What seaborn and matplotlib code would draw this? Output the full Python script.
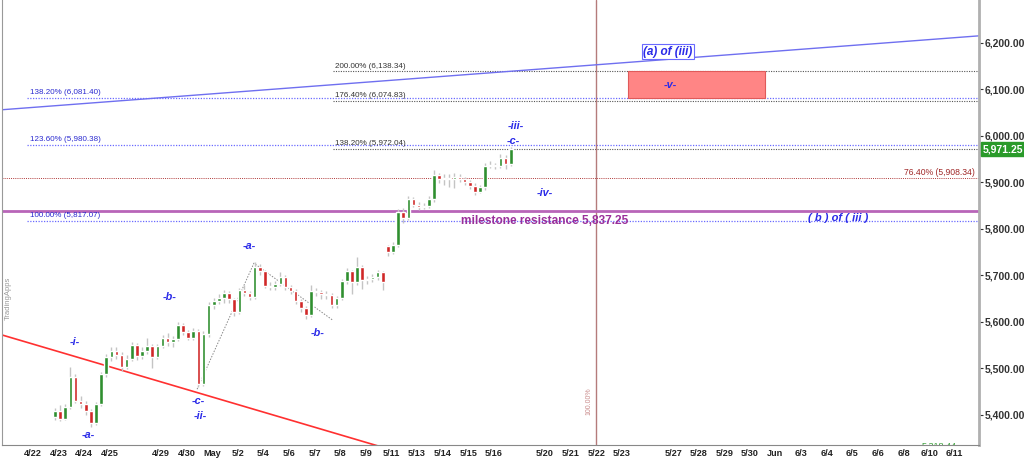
import matplotlib
matplotlib.use("Agg")
import matplotlib.pyplot as plt
import matplotlib.transforms as mtransforms
from matplotlib.patches import Rectangle
import numpy as np
import pandas as pd
import seaborn as sns

# ---- data ----
day_labels = ["4/22", "4/23", "4/24", "4/25", "", "4/29", "4/30", "May", "5/2", "5/4",
              "5/6", "5/7", "5/8", "5/9", "5/11", "5/13", "5/14", "5/15", "5/16", "",
              "5/20", "5/21", "5/22", "5/23", "", "5/27", "5/28", "5/29", "5/30", "Jun",
              "6/3", "6/4", "6/5", "6/6", "6/8", "6/10", "6/11"]

first_open = 5395
gap_open = {65: 5762}
closes = [5408, 5391, 5417, 5481, 5430, 5423, 5408, 5382, 5423, 5487,
          5524, 5537, 5528, 5503, 5520, 5550, 5526, 5537, 5548, 5524,
          5548, 5565, 5556, 5563, 5593, 5578, 5565, 5580, 5466, 5573,
          5636, 5644, 5651, 5661, 5648, 5621, 5668, 5661, 5653, 5717,
          5709, 5678, 5674, 5681, 5696, 5674, 5666, 5644, 5629, 5614,
          5666, 5663, 5659, 5657, 5636, 5651, 5687, 5709, 5685, 5717,
          5689, 5691, 5696, 5706, 5685, 5751, 5766, 5837, 5824, 5863,
          5852, 5846, 5848, 5863, 5915, 5908, 5910, 5906, 5912, 5908,
          5900, 5893, 5880, 5889, 5936, 5938, 5934, 5953, 5940, 5971.25]
highs = [5415, 5420, 5424, 5503, 5488, 5440, 5430, 5412, 5428, 5492,
         5530, 5545, 5545, 5535, 5528, 5556, 5555, 5545, 5566, 5552,
         5552, 5572, 5575, 5570, 5600, 5597, 5582, 5586, 5584, 5580,
         5642, 5652, 5660, 5668, 5666, 5652, 5672, 5680, 5666, 5728,
         5725, 5712, 5685, 5688, 5707, 5700, 5680, 5670, 5650, 5634,
         5680, 5672, 5668, 5666, 5662, 5656, 5692, 5715, 5712, 5740,
         5722, 5698, 5702, 5712, 5710, 5766, 5772, 5842, 5845, 5870,
         5868, 5858, 5855, 5870, 5927, 5920, 5918, 5918, 5920, 5918,
         5912, 5905, 5898, 5894, 5942, 5945, 5942, 5960, 5958, 5976]
lows = [5388, 5386, 5388, 5412, 5425, 5415, 5400, 5374, 5378, 5418,
        5482, 5515, 5520, 5495, 5498, 5515, 5518, 5520, 5530, 5500,
        5520, 5543, 5548, 5545, 5558, 5572, 5560, 5560, 5460, 5462,
        5568, 5628, 5638, 5640, 5640, 5612, 5616, 5655, 5646, 5648,
        5700, 5672, 5668, 5668, 5676, 5668, 5660, 5638, 5622, 5606,
        5610, 5655, 5650, 5648, 5630, 5630, 5646, 5682, 5660, 5680,
        5670, 5682, 5686, 5690, 5668, 5742, 5746, 5760, 5812, 5818,
        5846, 5840, 5842, 5844, 5858, 5898, 5895, 5890, 5888, 5900,
        5894, 5886, 5872, 5876, 5884, 5930, 5928, 5930, 5928, 5936]

# trend lines (day slot, price)
upper_trend_x = [-2, 38]
upper_trend_y = [6052.7, 6219.3]
lower_trend_x = [-2, 14]
lower_trend_y = [5584.5, 5324.5]
wave_path_x = [6.41, 8.63, 11.72]
wave_path_y = [5455, 5726, 5603]

fib_blue = [(6081.40, "138.20% (6,081.40)"), (5980.38, "123.60% (5,980.38)"),
            (5817.07, "100.00% (5,817.07)")]
fib_black = [(6138.34, "200.00% (6,138.34)"), (6074.83, "176.40% (6,074.83)"),
             (5972.04, "138.20% (5,972.04)")]
fib_red = (5908.34, "76.40% (5,908.34)")
milestone = 5837.25
last_price = 5971.25
target_box = (6081.40, 6138.34)

wave_labels = [("-i-", 1.64, 5556), ("-a-", 2.15, 5357), ("-b-", 5.35, 5653),
               ("-c-", 6.45, 5430), ("-ii-", 6.52, 5397), ("-a-", 8.44, 5764),
               ("-b-", 11.13, 5575), ("-iii-", 18.87, 6020), ("-c-", 18.75, 5988),
               ("-iv-", 20.0, 5878), ("-v-", 24.9, 6110)]

# ---- layout ----
sns.set_style("white")
plt.rcParams["font.family"] = ["Liberation Sans", "DejaVu Sans"]

fig = plt.figure(figsize=(10.24, 4.59), dpi=100)
ax = fig.add_axes([2 / 1024, 14 / 459, 977 / 1024, 445 / 459])
xmin, xmax = -1.21, 36.95
ax.set_xlim(xmin, xmax)
ax.set_ylim(5335, 6292)

# candles
n = len(closes)
cx = 0.86 + 0.2 * np.arange(n)
opens = np.r_[first_open, closes[:-1]].astype(float)
for k, v in gap_open.items():
    opens[k] = v
df = pd.DataFrame({"x": cx, "open": opens, "close": closes, "high": highs, "low": lows})
df["up"] = df["close"] >= df["open"]
ax.vlines(df["x"], df["low"], df["high"], color="#c4c4c4", lw=1.0, zorder=3)
colors = np.where(df["up"], "#2f8f2f", "#d02828")
ax.bar(df["x"], (df["close"] - df["open"]).abs().clip(lower=2.0),
       bottom=df[["open", "close"]].min(axis=1), width=0.14, color=colors, zorder=4)

# trend lines
sns.lineplot(x=upper_trend_x, y=upper_trend_y, ax=ax, color="#6f6ff0", lw=1.0, zorder=2)
sns.lineplot(x=lower_trend_x, y=lower_trend_y, ax=ax, color="#ff3030", lw=1.2, zorder=2)
ax.plot(wave_path_x, wave_path_y, color="#888888", lw=0.7, ls=(0, (1.5, 1.5)), zorder=2)

# fib levels
dot = (0, (1, 1.2))
for val, txt in fib_blue:
    ax.hlines(val, -0.23, xmax, color="#6a6aff", lw=0.9, ls=dot, zorder=1)
    ax.text(-0.1, val + 4, txt, color="#2a2ad0", fontsize=5.8, va="bottom", ha="left")
for val, txt in fib_black:
    ax.hlines(val, 11.72, xmax, color="#555555", lw=0.8, ls=dot, zorder=1)
    ax.text(11.8, val + 4, txt, color="#333333", fontsize=5.8, va="bottom", ha="left")
ax.hlines(fib_red[0], xmin, xmax, color="#b03838", lw=0.7, ls=dot, zorder=1)
ax.text(36.8, fib_red[0] + 4, fib_red[1], color="#a02828", fontsize=6.2,
        va="bottom", ha="right")

ax.axhline(milestone, color="#b865b8", lw=2.0, zorder=2)
ax.text(20.0, milestone - 7, "milestone resistance 5,837.25", color="#9a2f9a",
        fontsize=8.6, fontweight="bold", ha="center", va="top")
ax.text(31.45, milestone - 4, "( b ) of ( iii )", color="#2a2ae8", fontsize=8,
        fontweight="bold", style="italic", ha="center", va="top")

# vertical marker
ax.axvline(22, color="#b57b7b", lw=1.0, zorder=1)
ax.text(21.72, 5400, "100.00%", rotation=90, color="#c98a8a", fontsize=5,
        ha="center", va="bottom")

# target box
ax.add_patch(Rectangle((23.24, target_box[0]), 28.6 - 23.24, target_box[1] - target_box[0],
                       facecolor="#ff8585", edgecolor="#e05a5a", lw=0.8, zorder=2))

ax.text(24.8, 6181, "(a) of (iii)", color="#2a2ae8", fontsize=8.5, fontweight="bold",
        style="italic", ha="center", va="center",
        bbox=dict(boxstyle="square,pad=0.15", fc="white", ec="#6a6aff", lw=0.8))

for txt, x, y in wave_labels:
    ax.text(x, y, txt, color="#2a2ae8", fontsize=7.8, fontweight="bold",
            style="italic", ha="center", va="center", zorder=5)

# watermark
ax.text(-0.97, 5650, "TradingApps", rotation=90, color="#999999", fontsize=5.5,
        ha="center", va="center")

# partial label at bottom
ax.text(35.4, 5333, "5,318.44", color="#3aa03a", fontsize=6.5, ha="center",
        va="center", clip_on=True)

# last price tag
trans = mtransforms.blended_transform_factory(ax.transAxes, ax.transData)
ax.text(1.004, last_price, "5,971.25", transform=trans, color="white", fontsize=7.5,
        fontweight="bold", ha="left", va="center",
        bbox=dict(boxstyle="square,pad=0.2", fc="#2a9a2a", ec="#2a9a2a"))

# axes styling
ax.yaxis.tick_right()
yt = np.arange(5400, 6201, 100)
ax.set_yticks(yt)
ax.set_yticklabels([f"{v:,.2f}" for v in yt])
ax.set_xticks(np.arange(len(day_labels)))
ax.set_xticklabels(day_labels)
ax.tick_params(axis="y", length=3, labelsize=7.5, pad=1, colors="#333333", direction="out")
ax.tick_params(axis="x", length=2.5, labelsize=6.6, pad=0.5, colors="#222222", direction="out")
for lab in ax.get_xticklabels():
    lab.set_fontweight("bold")
for lab in ax.get_yticklabels():
    lab.set_fontweight("bold")
ax.spines["top"].set_visible(False)
ax.spines["left"].set_color("#999999")
ax.spines["right"].set_color("#b0b0b0")
ax.spines["right"].set_linewidth(2.0)
ax.spines["bottom"].set_color("#888888")
ax.set_xlabel("")
ax.set_ylabel("")

fig.savefig("out.png", dpi=100)
